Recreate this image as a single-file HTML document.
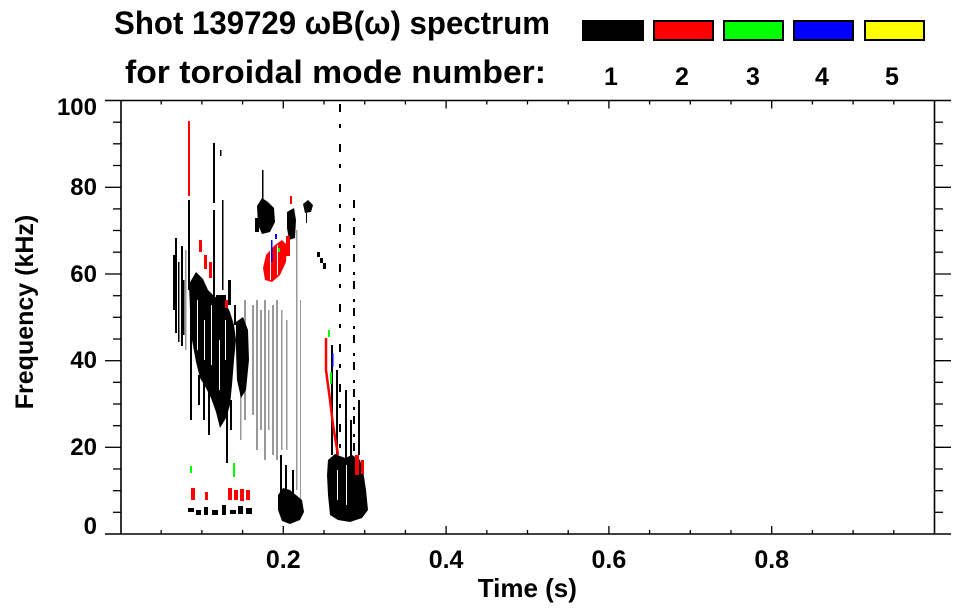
<!DOCTYPE html>
<html><head><meta charset="utf-8"><style>
html,body{margin:0;padding:0;background:#fff;}
svg{display:block;}
text{font-family:"Liberation Sans",Arial,sans-serif;font-weight:bold;fill:#000;}
</style></head><body>
<svg width="963" height="615" viewBox="0 0 963 615" xmlns="http://www.w3.org/2000/svg">
<rect width="963" height="615" fill="#fff"/>
<!-- Title -->
<text x="114" y="34" font-size="32" textLength="436" lengthAdjust="spacingAndGlyphs">Shot 139729 ωB(ω) spectrum</text>
<text x="125" y="83" font-size="32" textLength="421" lengthAdjust="spacingAndGlyphs">for toroidal mode number:</text>
<!-- Legend -->
<rect x="582" y="20" width="62" height="21" fill="#000"/>
<rect x="654" y="21" width="59" height="19" fill="#f00" stroke="#000" stroke-width="2"/>
<rect x="724" y="21" width="59" height="19" fill="#0f0" stroke="#000" stroke-width="2"/>
<rect x="794" y="21" width="59" height="19" fill="#00f" stroke="#000" stroke-width="2"/>
<rect x="865" y="21" width="59" height="19" fill="#ff0" stroke="#000" stroke-width="2"/>
<g font-size="25" text-anchor="middle">
<text x="611" y="85">1</text><text x="682" y="85">2</text><text x="753" y="85">3</text><text x="822" y="85">4</text><text x="892" y="85">5</text>
</g>

<!-- Data -->
<g>
<g fill="#999">
<rect x="244" y="300" width="2" height="120"/>
<rect x="252" y="305" width="2" height="110"/>
<rect x="256" y="300" width="2" height="150"/>
<rect x="260" y="310" width="2" height="120"/>
<rect x="264" y="300" width="2" height="160"/>
<rect x="268" y="310" width="1.5" height="120"/>
<rect x="272" y="305" width="2" height="150"/>
<rect x="276" y="300" width="2" height="160"/>
<rect x="281" y="310" width="1.5" height="140"/>
<rect x="286" y="320" width="1.5" height="130"/>
<rect x="296" y="230" width="1.5" height="260"/>
<rect x="300" y="300" width="1" height="200"/>
<rect x="185" y="250" width="1.5" height="100"/>
<rect x="240" y="330" width="1.5" height="110"/>
</g>
<g fill="#000">
<rect x="173" y="255" width="2" height="55"/>
<rect x="175" y="238" width="2" height="95"/>
<rect x="178" y="262" width="1.5" height="80"/>
<rect x="181" y="246" width="2" height="100"/>
<rect x="183" y="280" width="1.5" height="55"/>
<rect x="188" y="200" width="2" height="90"/>
<rect x="190" y="300" width="2" height="120"/>
<rect x="213" y="143" width="2" height="60"/>
<rect x="213" y="210" width="2" height="90"/>
<rect x="220" y="150" width="1.5" height="6"/>
<rect x="222" y="200" width="1.5" height="90"/>
<rect x="262" y="170" width="1.5" height="32"/>
<!-- main blob -->
<path d="M189,284 L196,272 L203,279 L208,290 L214,296 L220,300 L226,304 L230,312 L234,325 L236,340 L234,360 L232,385 L230,405 L226,418 L220,428 L216,412 L211,398 L206,388 L200,378 L196,362 L192,340 L190,310 Z"/>
<path d="M236,322 L243,317 L248,330 L249,360 L246,390 L241,398 L237,380 L236,350 Z"/>
<rect x="198" y="375" width="2" height="30"/>
<rect x="203" y="380" width="2" height="40"/>
<rect x="208" y="390" width="2" height="45"/>
<rect x="226" y="300" width="2" height="163"/>
<rect x="230" y="400" width="2" height="30"/>
<rect x="216" y="295" width="10" height="10"/>
<rect x="228" y="280" width="3" height="25"/>
<rect x="234" y="305" width="2" height="20"/>
<!-- 70-76 kHz cluster -->
<path d="M257,206 L262,198 L268,202 L274,208 L275,222 L270,232 L262,234 L258,225 Z"/>
<rect x="255" y="218" width="4" height="14"/>
<path d="M287,212 L294,208 L296,220 L295,238 L289,240 L287,228 Z"/>
<path d="M303,204 L308,200 L313,205 L311,212 L305,213 Z"/>
<rect x="306" y="213" width="1" height="10"/>
<rect x="317" y="252" width="3" height="5"/>
<rect x="320" y="258" width="3" height="5"/>
<rect x="323" y="263" width="3" height="6"/>
<line x1="340" y1="104" x2="340" y2="520" stroke="#000" stroke-width="2" stroke-dasharray="8,12,4,16"/>
<line x1="354" y1="200" x2="354" y2="470" stroke="#000" stroke-width="2" stroke-dasharray="8,10,3,6"/>
<!-- bottom blob A -->
<rect x="280" y="455" width="2" height="40"/>
<rect x="285" y="465" width="2" height="30"/>
<rect x="292" y="470" width="2" height="28"/>
<path d="M278,495 L283,488 L290,490 L296,495 L302,500 L304,512 L300,520 L290,524 L282,521 L278,510 Z"/>
<!-- bottom blob B -->
<rect x="331" y="345" width="2" height="110"/>
<rect x="336" y="370" width="2" height="90"/>
<rect x="345" y="390" width="2" height="70"/>
<rect x="350" y="420" width="2" height="40"/>
<rect x="358" y="400" width="2" height="55"/>
<path d="M328,460 L335,454 L345,458 L352,455 L360,460 L363,470 L366,490 L368,510 L362,518 L350,522 L338,520 L330,515 L328,495 L327,475 Z"/>
<rect x="188" y="508" width="6" height="4"/>
<rect x="196" y="510" width="5" height="5"/>
<rect x="204" y="507" width="4" height="8"/>
<rect x="212" y="510" width="6" height="5"/>
<rect x="222" y="505" width="4" height="10"/>
<rect x="230" y="510" width="6" height="4"/>
<rect x="238" y="506" width="5" height="8"/>
<rect x="246" y="508" width="6" height="6"/>
</g>
<!-- texture gaps in main blob -->
<g fill="#fff">
<rect x="197" y="300" width="1" height="50"/>
<rect x="204" y="320" width="1" height="40"/>
<rect x="211" y="305" width="1" height="60"/>
<rect x="219" y="340" width="1" height="50"/>
<rect x="225" y="320" width="1" height="40"/>
<rect x="346" y="465" width="1" height="40"/>
<rect x="337" y="470" width="1" height="30"/>
</g>
<g fill="#f00">
<rect x="188" y="121" width="2" height="75"/>
<rect x="199" y="240" width="3" height="12"/>
<rect x="204" y="255" width="3" height="14"/>
<rect x="209" y="262" width="3" height="16"/>
<rect x="225" y="300" width="3" height="8"/>
<path d="M266,255 L275,245 L282,240 L287,245 L286,262 L280,275 L272,282 L265,280 L263,268 Z"/>
<rect x="286" y="236" width="4" height="20"/>
<rect x="290" y="196" width="2" height="8"/>
<rect x="191" y="488" width="4" height="12"/>
<rect x="205" y="492" width="3" height="8"/>
<rect x="228" y="488" width="4" height="12"/>
<rect x="234" y="490" width="4" height="10"/>
<rect x="240" y="489" width="4" height="12"/>
<rect x="246" y="490" width="4" height="10"/>
<rect x="355" y="455" width="4" height="20"/>
<rect x="361" y="460" width="3" height="14"/>
</g>
<g fill="#fff">
<rect x="270" y="250" width="1" height="30"/>
<rect x="277" y="245" width="1" height="30"/>
</g>
<polyline points="326,338 326,370 330,400 333,425 338,455" fill="none" stroke="#f00" stroke-width="2.5"/>
<g fill="#0f0">
<rect x="190" y="466" width="2" height="7"/>
<rect x="233" y="463" width="2" height="14"/>
<rect x="328" y="330" width="2" height="7"/>
<rect x="330" y="372" width="2" height="12"/>
<rect x="278" y="248" width="2" height="4"/>
</g>
<g fill="#00f">
<rect x="271" y="240" width="1.5" height="22"/>
<rect x="275" y="234" width="2" height="5"/>
<rect x="332" y="353" width="1.5" height="14"/>
</g>
</g>

<!-- Axes -->
<g stroke="#000" stroke-width="1.6" fill="none">
<line x1="105" y1="100.5" x2="951" y2="100.5"/>
<line x1="105" y1="534" x2="951" y2="534"/>
<line x1="121" y1="100.5" x2="121" y2="534"/>
<line x1="934.5" y1="100.5" x2="934.5" y2="534"/>
</g>
<g stroke="#000" stroke-width="1.3">
<line x1="105" y1="187.3" x2="121" y2="187.3"/><line x1="934.5" y1="187.3" x2="951" y2="187.3"/>
<line x1="105" y1="274" x2="121" y2="274"/><line x1="934.5" y1="274" x2="951" y2="274"/>
<line x1="105" y1="360.7" x2="121" y2="360.7"/><line x1="934.5" y1="360.7" x2="951" y2="360.7"/>
<line x1="105" y1="447.3" x2="121" y2="447.3"/><line x1="934.5" y1="447.3" x2="951" y2="447.3"/>
<line x1="113" y1="122.2" x2="121" y2="122.2"/><line x1="934.5" y1="122.2" x2="943" y2="122.2"/>
<line x1="113" y1="143.8" x2="121" y2="143.8"/><line x1="934.5" y1="143.8" x2="943" y2="143.8"/>
<line x1="113" y1="165.5" x2="121" y2="165.5"/><line x1="934.5" y1="165.5" x2="943" y2="165.5"/>
<line x1="113" y1="208.9" x2="121" y2="208.9"/><line x1="934.5" y1="208.9" x2="943" y2="208.9"/>
<line x1="113" y1="230.5" x2="121" y2="230.5"/><line x1="934.5" y1="230.5" x2="943" y2="230.5"/>
<line x1="113" y1="252.2" x2="121" y2="252.2"/><line x1="934.5" y1="252.2" x2="943" y2="252.2"/>
<line x1="113" y1="295.7" x2="121" y2="295.7"/><line x1="934.5" y1="295.7" x2="943" y2="295.7"/>
<line x1="113" y1="317.3" x2="121" y2="317.3"/><line x1="934.5" y1="317.3" x2="943" y2="317.3"/>
<line x1="113" y1="339" x2="121" y2="339"/><line x1="934.5" y1="339" x2="943" y2="339"/>
<line x1="113" y1="382.3" x2="121" y2="382.3"/><line x1="934.5" y1="382.3" x2="943" y2="382.3"/>
<line x1="113" y1="404" x2="121" y2="404"/><line x1="934.5" y1="404" x2="943" y2="404"/>
<line x1="113" y1="425.7" x2="121" y2="425.7"/><line x1="934.5" y1="425.7" x2="943" y2="425.7"/>
<line x1="113" y1="469" x2="121" y2="469"/><line x1="934.5" y1="469" x2="943" y2="469"/>
<line x1="113" y1="490.7" x2="121" y2="490.7"/><line x1="934.5" y1="490.7" x2="943" y2="490.7"/>
<line x1="113" y1="512.3" x2="121" y2="512.3"/><line x1="934.5" y1="512.3" x2="943" y2="512.3"/>
<line x1="283.3" y1="534" x2="283.3" y2="526"/><line x1="283.3" y1="100.5" x2="283.3" y2="108.5"/>
<line x1="446.1" y1="534" x2="446.1" y2="526"/><line x1="446.1" y1="100.5" x2="446.1" y2="108.5"/>
<line x1="608.9" y1="534" x2="608.9" y2="526"/><line x1="608.9" y1="100.5" x2="608.9" y2="108.5"/>
<line x1="771.7" y1="534" x2="771.7" y2="526"/><line x1="771.7" y1="100.5" x2="771.7" y2="108.5"/>
<line x1="161.2" y1="534" x2="161.2" y2="530"/><line x1="161.2" y1="100.5" x2="161.2" y2="104.5"/>
<line x1="201.9" y1="534" x2="201.9" y2="530"/><line x1="201.9" y1="100.5" x2="201.9" y2="104.5"/>
<line x1="242.6" y1="534" x2="242.6" y2="530"/><line x1="242.6" y1="100.5" x2="242.6" y2="104.5"/>
<line x1="324" y1="534" x2="324" y2="530"/><line x1="324" y1="100.5" x2="324" y2="104.5"/>
<line x1="364.7" y1="534" x2="364.7" y2="530"/><line x1="364.7" y1="100.5" x2="364.7" y2="104.5"/>
<line x1="405.4" y1="534" x2="405.4" y2="530"/><line x1="405.4" y1="100.5" x2="405.4" y2="104.5"/>
<line x1="486.8" y1="534" x2="486.8" y2="530"/><line x1="486.8" y1="100.5" x2="486.8" y2="104.5"/>
<line x1="527.5" y1="534" x2="527.5" y2="530"/><line x1="527.5" y1="100.5" x2="527.5" y2="104.5"/>
<line x1="568.2" y1="534" x2="568.2" y2="530"/><line x1="568.2" y1="100.5" x2="568.2" y2="104.5"/>
<line x1="649.6" y1="534" x2="649.6" y2="530"/><line x1="649.6" y1="100.5" x2="649.6" y2="104.5"/>
<line x1="690.3" y1="534" x2="690.3" y2="530"/><line x1="690.3" y1="100.5" x2="690.3" y2="104.5"/>
<line x1="731" y1="534" x2="731" y2="530"/><line x1="731" y1="100.5" x2="731" y2="104.5"/>
<line x1="812.4" y1="534" x2="812.4" y2="530"/><line x1="812.4" y1="100.5" x2="812.4" y2="104.5"/>
<line x1="853.1" y1="534" x2="853.1" y2="530"/><line x1="853.1" y1="100.5" x2="853.1" y2="104.5"/>
<line x1="893.8" y1="534" x2="893.8" y2="530"/><line x1="893.8" y1="100.5" x2="893.8" y2="104.5"/>
</g>

<g font-size="24" text-anchor="end">
<text x="97" y="115">100</text>
<text x="97" y="195">80</text>
<text x="97" y="282">60</text>
<text x="97" y="368">40</text>
<text x="97" y="455">20</text>
<text x="97" y="534">0</text>
</g>
<g font-size="25" text-anchor="middle">
<text x="283.3" y="568">0.2</text>
<text x="446.1" y="568">0.4</text>
<text x="608.9" y="568">0.6</text>
<text x="771.7" y="568">0.8</text>
</g>
<text x="527.3" y="597" font-size="26" text-anchor="middle">Time (s)</text>
<text x="0" y="0" font-size="25" text-anchor="middle" transform="translate(33,312) rotate(-90)">Frequency (kHz)</text>
</svg>
</body></html>
